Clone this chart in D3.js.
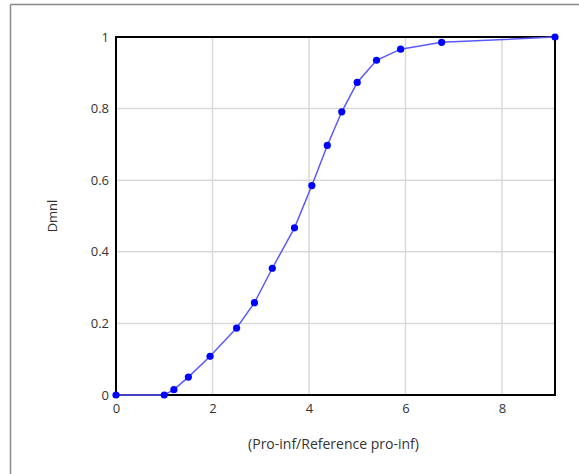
<!DOCTYPE html>
<html><head><meta charset="utf-8">
<script src="https://cdn.jsdelivr.net/npm/d3@7"></script>
<style>
html,body{margin:0;padding:0;background:#fff;}
svg{display:block;}
</style></head>
<body>
<script>
const xValues = [0, 1, 1.2, 1.5, 1.95, 2.5, 2.87, 3.24, 3.7, 4.06, 4.38, 4.68, 5.0, 5.4, 5.9, 6.75, 9.1];
const yValues = [0, 0, 0.015, 0.05, 0.108, 0.187, 0.258, 0.354, 0.467, 0.585, 0.697, 0.791, 0.873, 0.935, 0.966, 0.985, 1];
const xTicks = [0, 2, 4, 6, 8];
const yTicks = [0, 0.2, 0.4, 0.6, 0.8, 1];
const xTitle = "(Pro-inf/Reference pro-inf)";
const yTitle = "Dmnl";

const W = 579, H = 474;
const m = {left: 116, top: 37, right: 24, bottom: 79};
const svg = d3.select("body").append("svg").attr("width", W).attr("height", H);

// outer frame
svg.append("line").attr("x1", 10.5).attr("x2", W).attr("y1", 4.5).attr("y2", 4.5).attr("stroke", "#8a8a8a").attr("stroke-width", 1.5);
svg.append("line").attr("x1", 10.5).attr("x2", 10.5).attr("y1", 4.5).attr("y2", H).attr("stroke", "#8a8a8a").attr("stroke-width", 1.5);

const x = d3.scaleLinear().domain([0, 9.1]).range([m.left, W - m.right]);
const y = d3.scaleLinear().domain([0, 1]).range([H - m.bottom, m.top]);

const font = "'Open Sans', 'Noto Sans', sans-serif";

// gridlines
svg.append("g").selectAll("line").data(xTicks.slice(1)).join("line")
  .attr("x1", d => x(d)).attr("x2", d => x(d)).attr("y1", y(0)).attr("y2", y(1))
  .attr("stroke", "#d9d9d9").attr("stroke-width", 1.5);
svg.append("g").selectAll("line").data(yTicks.slice(1, -1)).join("line")
  .attr("x1", x(0)).attr("x2", x(9.1)).attr("y1", d => y(d)).attr("y2", d => y(d))
  .attr("stroke", "#d9d9d9").attr("stroke-width", 1.5);

// axes (labels only)
const xAxis = svg.append("g").attr("transform", `translate(0,${y(0)})`)
  .call(d3.axisBottom(x).tickValues(xTicks).tickSize(0).tickPadding(9).tickFormat(d3.format("d")));
const yAxis = svg.append("g").attr("transform", `translate(${x(0)},0)`)
  .call(d3.axisLeft(y).tickValues(yTicks).tickSize(0).tickPadding(7).tickFormat(d => d === 0 || d === 1 ? d3.format("d")(d) : d3.format(".1f")(d)));
[xAxis, yAxis].forEach(g => {
  g.select(".domain").remove();
  g.selectAll("text").attr("font-family", font).attr("font-size", 13).attr("fill", "#333");
});

// frame
svg.append("rect").attr("x", x(0)).attr("y", y(1)).attr("width", x(9.1) - x(0)).attr("height", y(0) - y(1))
  .attr("fill", "none").attr("stroke", "#000").attr("stroke-width", 2);

const pts = xValues.map((v, i) => [v, yValues[i]]);
svg.append("path").datum(pts)
  .attr("d", d3.line().x(d => x(d[0])).y(d => y(d[1])))
  .attr("fill", "none").attr("stroke", "#5a5aff").attr("stroke-width", 1.5);
svg.append("g").selectAll("circle").data(pts).join("circle")
  .attr("cx", d => x(d[0])).attr("cy", d => y(d[1])).attr("r", 3.6).attr("fill", "#0000ff");

svg.append("text").attr("x", (x(0) + x(9.1)) / 2 - 2).attr("y", 449).attr("text-anchor", "middle")
  .attr("font-family", font).attr("font-size", 14).attr("fill", "#333").text(xTitle);
svg.append("text").attr("transform", `translate(57,${(y(0) + y(1)) / 2}) rotate(-90)`).attr("text-anchor", "middle")
  .attr("font-family", font).attr("font-size", 13).attr("fill", "#333").text(yTitle);
</script>
</body></html>
